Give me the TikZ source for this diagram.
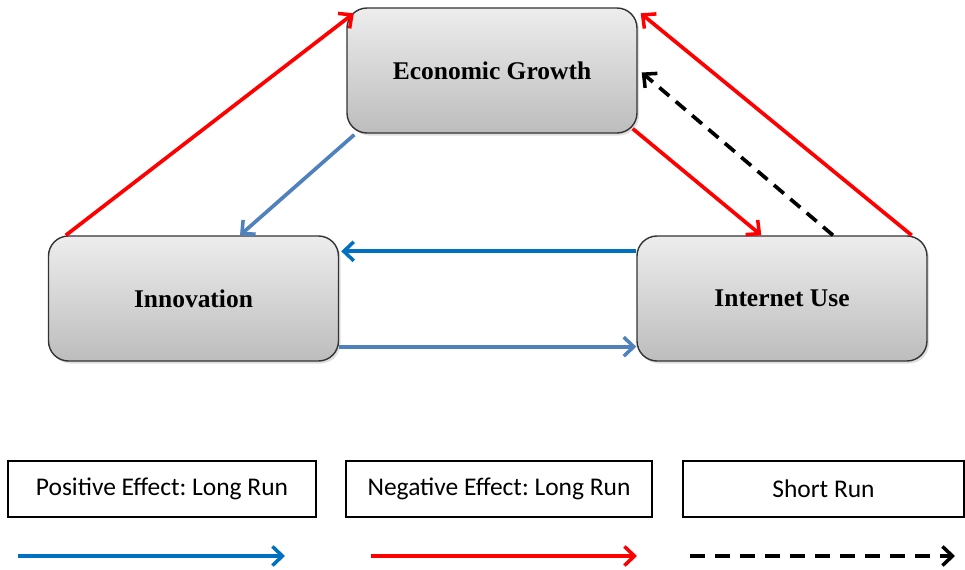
\documentclass[tikz,border=0pt]{standalone}
\usepackage{fontspec}
\setmainfont{Liberation Serif}
\newfontfamily\legendfont{Carlito}
\usetikzlibrary{arrows.meta,shadows}

\definecolor{posblue}{HTML}{4F81BD}
\definecolor{deepblue}{HTML}{0070C0}

\frenchspacing
\begin{document}
\begin{tikzpicture}[main_node/.style={rectangle,rounded corners=0.4cm,draw=black!80,line width=0.8pt,
                      top color=gray!14,bottom color=gray!52,minimum width=5.8cm,minimum height=2.5cm,
                      drop shadow={opacity=0.25,shadow xshift=0.04cm,shadow yshift=-0.05cm},
                      font=\fontsize{14.5}{17}\selectfont\bfseries},
                    legend_node/.style={rectangle,draw,line width=1pt,minimum height=1.12cm,
                      font=\legendfont\fontsize{14.5}{17}\selectfont},
                    link/.style={line width=2.1pt,-{Straight Barb[length=2mm,width=3.8mm,line width=2pt]}}]

     \useasboundingbox (0,0) rectangle (19.3,-11.4);

     \node[main_node] (eg) at (9.84, -1.41) {Economic Growth};
     \node[main_node] (inn) at (3.87, -5.97) {Innovation};
     \node[main_node] (iu) at (15.64, -5.97) {Internet Use};

     % long run, negative
     \path[link,red]
     ([xshift=0.36cm]inn.north west) edge ([xshift=0.15cm,yshift=-0.12cm]eg.north west)
     ([xshift=-0.32cm]iu.north east) edge ([xshift=0.06cm,yshift=-0.12cm]eg.north east)
     ([xshift=-0.1cm,yshift=0.1cm]eg.south east) edge ([xshift=2.5cm]iu.north west)
     ;

     % long run, positive
     \path[link,posblue]
     ([xshift=0.16cm,yshift=-0.02cm]eg.south west) edge ([xshift=0.93cm]inn.north)
     ([yshift=0.3cm]inn.south east) edge ([yshift=0.3cm]iu.south west)
     ;
     \path[link,deepblue]
     ([yshift=-0.32cm]iu.north west) edge ([xshift=0.04cm,yshift=-0.32cm]inn.north east)
     ;

     % short run
     \path[link,black,dash pattern=on 0.26cm off 0.17cm]
     ([xshift=1.02cm]iu.north) edge ([xshift=0.08cm,yshift=-0.04cm]eg.east)
     ;

     % legend
     \node[legend_node,minimum width=6.16cm] (l1) at (3.24, -9.78) {Positive Effect: Long Run};
     \node[legend_node,minimum width=6.12cm] (l2) at (9.98, -9.78) {Negative Effect: Long Run};
     \node[legend_node,minimum width=5.62cm] (l3) at (16.47, -9.78) {Short Run};

     \coordinate (a1) at (0.36, -11.12);
     \coordinate (b1) at (5.7, -11.12);
     \coordinate (a2) at (7.42, -11.12);
     \coordinate (b2) at (12.74, -11.12);
     \coordinate (a3) at (13.8, -11.12);
     \coordinate (b3) at (19.1, -11.12);

     \path[link,deepblue] (a1) edge (b1);
     \path[link,red] (a2) edge (b2);
     \path[link,black,dash pattern=on 0.3cm off 0.2cm] (a3) edge (b3);
 \end{tikzpicture}
\end{document}
